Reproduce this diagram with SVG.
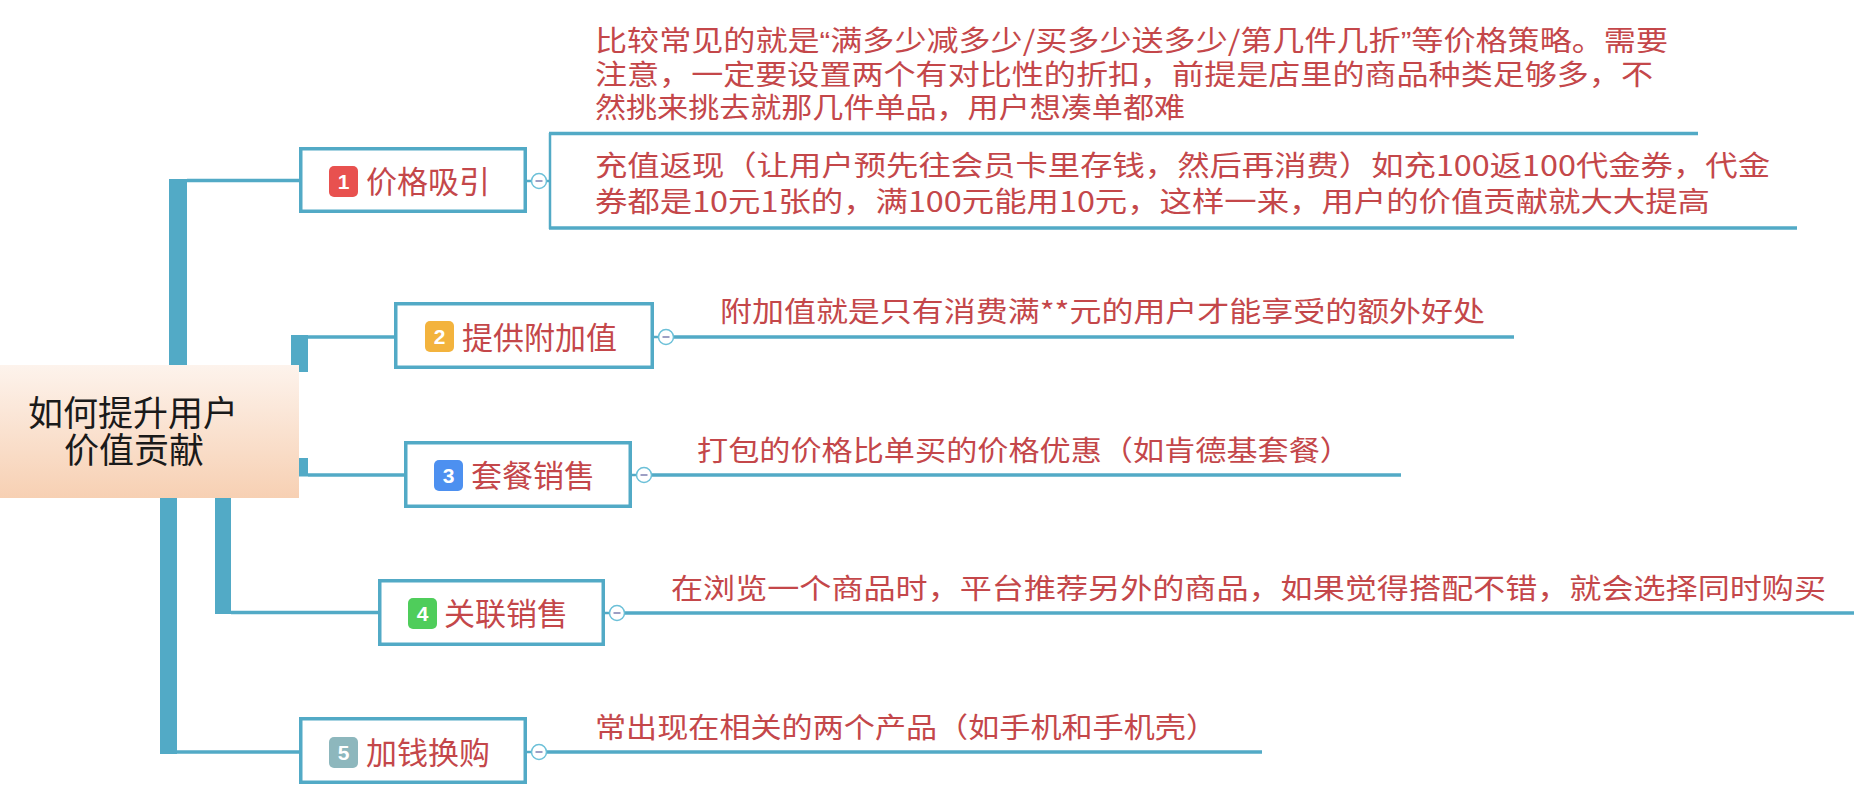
<svg xmlns="http://www.w3.org/2000/svg" width="1854" height="804" viewBox="0 0 1854 804">
<defs>
<linearGradient id="rootGrad" x1="0" y1="0" x2="0" y2="1">
<stop offset="0" stop-color="#fdf3ec"/>
<stop offset="1" stop-color="#f7d0b3"/>
</linearGradient>
</defs>
<style>
.bar{fill:#52aac6}
.ln{stroke:#52aac6;stroke-width:3.5;fill:none}
.thin{stroke:#52aac6;stroke-width:2.5;fill:none}
.box{fill:#fff;stroke:#52aac6;stroke-width:3.5}
.lbl{font-family:"Noto Sans CJK SC",sans-serif;font-size:31px;fill:#c4474a}
.desc{font-family:"Noto Sans CJK SC",sans-serif;font-size:28px;fill:#c4474a}
.q{font-family:"Liberation Sans",sans-serif}
.root{font-family:"Noto Sans CJK SC",sans-serif;font-size:35px;fill:#1a1a1a;text-anchor:middle}
.num{font-family:"Liberation Sans",sans-serif;font-size:21px;fill:#fff;font-weight:bold;text-anchor:middle}
.tog circle{fill:#fff;stroke:#6cc0d8;stroke-width:1.5}
.tog line{stroke:#7d7fb0;stroke-width:1.5}
</style>
<rect width="1854" height="804" fill="#fff"/>
<g id="connectors">
<rect class="bar" x="169" y="179" width="18" height="200"/>
<rect class="bar" x="291" y="335" width="17" height="37"/>
<rect class="bar" x="291" y="458" width="17" height="18.5"/>
<rect class="bar" x="215" y="480" width="16" height="134"/>
<rect class="bar" x="160" y="480" width="17" height="274"/>
<line class="ln" x1="187" y1="180.5" x2="300" y2="180.5"/>
<line class="ln" x1="308" y1="337" x2="395" y2="337"/>
<line class="ln" x1="308" y1="475" x2="405" y2="475"/>
<line class="ln" x1="231" y1="612.5" x2="379" y2="612.5"/>
<line class="ln" x1="177" y1="752" x2="300" y2="752"/>
<line class="thin" x1="527" y1="181" x2="532" y2="181"/>
<line class="thin" x1="546" y1="181" x2="550" y2="181"/>
<line class="thin" x1="550" y1="133" x2="550" y2="229"/>
<line class="ln" x1="549" y1="133.5" x2="1698" y2="133.5"/>
<line class="ln" x1="549" y1="228" x2="1797" y2="228"/>
<line class="thin" x1="654" y1="337" x2="659" y2="337"/>
<line class="ln" x1="673" y1="337" x2="1514" y2="337"/>
<line class="thin" x1="632" y1="475" x2="637" y2="475"/>
<line class="ln" x1="651" y1="475" x2="1401" y2="475"/>
<line class="thin" x1="605" y1="613" x2="610" y2="613"/>
<line class="ln" x1="624" y1="613" x2="1854" y2="613"/>
<line class="thin" x1="527" y1="752" x2="532" y2="752"/>
<line class="ln" x1="546" y1="752" x2="1262" y2="752"/>
</g>
<g id="root">
<rect x="0" y="365" width="299" height="133" fill="url(#rootGrad)"/>
<text class="root" x="133" y="426">如何提升用户</text>
<text class="root" x="134" y="463">价值贡献</text>
</g>
<g id="node1">
<rect class="box" x="300.75" y="148.75" width="224.5" height="62.5"/>
<rect x="329" y="166" width="29" height="31" rx="5" fill="#e8514f"/>
<text class="num" x="343.5" y="189">1</text>
<text class="lbl" x="366" y="193">价格吸引</text>
<g class="tog"><circle cx="539" cy="181" r="7.5"/><line x1="535.5" y1="181" x2="542.5" y2="181"/></g>
</g>
<g id="node1-desc1">
<text class="desc" x="595" y="51" textLength="1073" lengthAdjust="spacingAndGlyphs">比较常见的就是<tspan class="q">“</tspan>满多少减多少/买多少送多少/第几件几折<tspan class="q">”</tspan>等价格策略。需要</text>
<text class="desc" x="595" y="85" textLength="1058" lengthAdjust="spacingAndGlyphs">注意，一定要设置两个有对比性的折扣，前提是店里的商品种类足够多，不</text>
<text class="desc" x="595" y="118" textLength="590" lengthAdjust="spacingAndGlyphs">然挑来挑去就那几件单品，用户想凑单都难</text>
</g>
<g id="node1-desc2">
<text class="desc" x="595" y="176" textLength="1175" lengthAdjust="spacingAndGlyphs">充值返现（让用户预先往会员卡里存钱，然后再消费）如充100返100代金券，代金</text>
<text class="desc" x="595" y="212" textLength="1115" lengthAdjust="spacingAndGlyphs">券都是10元1张的，满100元能用10元，这样一来，用户的价值贡献就大大提高</text>
</g>
<g id="node2">
<rect class="box" x="395.75" y="303.75" width="256.5" height="63.5"/>
<rect x="425" y="321" width="29" height="31" rx="5" fill="#f3b33d"/>
<text class="num" x="439.5" y="344">2</text>
<text class="lbl" x="462" y="349">提供附加值</text>
<g class="tog"><circle cx="666" cy="337" r="7.5"/><line x1="662.5" y1="337" x2="669.5" y2="337"/></g>
</g>
<g id="node2-desc">
<text class="desc" x="720" y="322" textLength="765" lengthAdjust="spacingAndGlyphs">附加值就是只有消费满**元的用户才能享受的额外好处</text>
</g>
<g id="node3">
<rect class="box" x="405.75" y="442.75" width="224.5" height="63.5"/>
<rect x="434" y="460" width="29" height="31" rx="5" fill="#4d90f0"/>
<text class="num" x="448.5" y="483">3</text>
<text class="lbl" x="471" y="487">套餐销售</text>
<g class="tog"><circle cx="644" cy="475" r="7.5"/><line x1="640.5" y1="475" x2="647.5" y2="475"/></g>
</g>
<g id="node3-desc">
<text class="desc" x="697" y="461" textLength="654" lengthAdjust="spacingAndGlyphs">打包的价格比单买的价格优惠（如肯德基套餐）</text>
</g>
<g id="node4">
<rect class="box" x="379.75" y="580.75" width="223.5" height="63.5"/>
<rect x="408" y="598" width="29" height="31" rx="5" fill="#4fcd5b"/>
<text class="num" x="422.5" y="621">4</text>
<text class="lbl" x="444" y="625">关联销售</text>
<g class="tog"><circle cx="617" cy="613" r="7.5"/><line x1="613.5" y1="613" x2="620.5" y2="613"/></g>
</g>
<g id="node4-desc">
<text class="desc" x="671" y="599" textLength="1155" lengthAdjust="spacingAndGlyphs">在浏览一个商品时，平台推荐另外的商品，如果觉得搭配不错，就会选择同时购买</text>
</g>
<g id="node5">
<rect class="box" x="300.75" y="718.75" width="224.5" height="63.5"/>
<rect x="329" y="737" width="29" height="31" rx="5" fill="#8db7bd"/>
<text class="num" x="343.5" y="760">5</text>
<text class="lbl" x="366" y="764">加钱换购</text>
<g class="tog"><circle cx="539" cy="752" r="7.5"/><line x1="535.5" y1="752" x2="542.5" y2="752"/></g>
</g>
<g id="node5-desc">
<text class="desc" x="595" y="738" textLength="622" lengthAdjust="spacingAndGlyphs">常出现在相关的两个产品（如手机和手机壳）</text>
</g>
</svg>
